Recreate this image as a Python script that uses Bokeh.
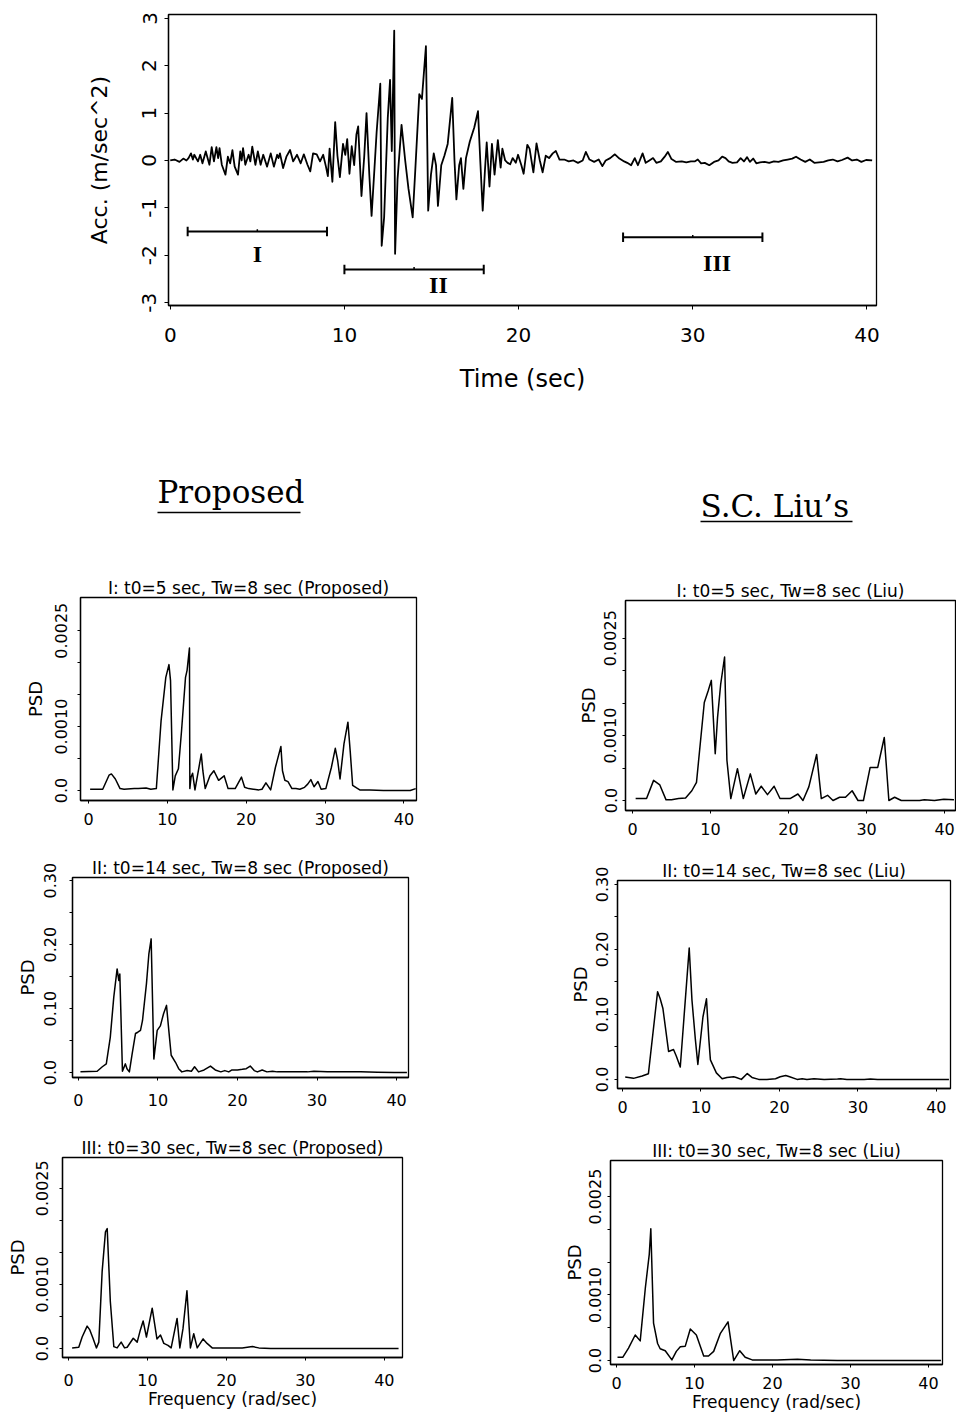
from bokeh.plotting import figure
from bokeh.layouts import column, row
from bokeh.models import Range1d, FixedTicker
from bokeh.core.properties import value
from bokeh.embed import file_html
from bokeh.resources import INLINE

FONT = "DejaVu Sans"

# ---------------- acceleration time history ----------------
acc_time = [
    0.00, 0.25, 0.53, 0.75, 0.93, 1.05, 1.19, 1.30, 1.38, 1.59, 1.72, 1.85, 2.04, 2.25, 2.38,
    2.51, 2.65, 2.75, 2.83, 2.96, 3.17, 3.31, 3.44, 3.57, 3.70, 3.89, 4.02, 4.10, 4.18, 4.31,
    4.50, 4.60, 4.71, 4.89, 5.03, 5.19, 5.34, 5.56, 5.77, 5.95, 6.14, 6.22, 6.30, 6.48, 6.67,
    6.88, 7.06, 7.28, 7.49, 7.67, 7.88, 8.04, 8.20, 8.41, 8.60, 8.78, 8.94, 9.05,
    9.15, 9.31, 9.47, 9.60, 9.74, 9.92, 10.05, 10.16, 10.29, 10.42, 10.56, 10.69, 10.79, 10.98,
    11.14, 11.27, 11.43, 11.56, 11.72, 11.85, 12.06, 12.14, 12.28, 12.49, 12.62, 12.72, 12.86,
    12.91, 13.05, 13.28, 13.49, 13.68, 13.92, 14.07, 14.30, 14.45, 14.68, 14.81, 14.97, 15.13,
    15.26, 15.37, 15.56, 15.74, 15.93, 16.19, 16.32, 16.43, 16.59, 16.69, 16.83, 16.98, 17.20,
    17.46, 17.67, 17.80, 17.94, 18.07, 18.17, 18.33, 18.47, 18.62, 18.81, 18.97, 19.07, 19.23,
    19.37, 19.52, 19.66, 19.84,
    19.97, 20.16, 20.29, 20.50, 20.63, 20.85, 21.03, 21.22, 21.38, 21.56, 21.75, 21.96, 22.14,
    22.35, 22.62, 22.88, 23.15, 23.41, 23.68, 23.86, 24.07, 24.34, 24.60, 24.81, 25.00, 25.26,
    25.53, 25.79, 26.06, 26.24, 26.46, 26.67, 26.85, 27.12, 27.30, 27.51, 27.72, 27.91, 28.17,
    28.39, 28.57, 28.78, 29.05, 29.37, 29.63, 29.89, 30.11, 30.29, 30.48, 30.69, 30.95, 31.22,
    31.48, 31.69, 31.88, 32.06, 32.28, 32.54, 32.75, 32.94, 33.12, 33.28, 33.47, 33.65, 33.86,
    34.13, 34.39, 34.66, 34.92, 35.19, 35.45, 35.71, 35.93, 36.19, 36.46, 36.72, 36.98, 37.25,
    37.51, 37.78, 38.04, 38.31, 38.57, 38.89, 39.15, 39.42, 39.68, 39.95, 40.30,
]
acc_value = [
    0.00, 0.02, -0.03, 0.04, 0.00, 0.05, 0.15, 0.02, 0.12, -0.02, 0.12, -0.06, 0.19, -0.09, 0.28,
    -0.02, 0.28, 0.05, 0.26, -0.09, -0.30, 0.08, -0.06, 0.22, -0.13, -0.30, 0.19, 0.00, 0.26, -0.09,
    0.12, -0.02, 0.29, -0.09, 0.19, -0.09, 0.12, -0.13, 0.15, -0.13, 0.12, 0.05, 0.15, -0.16, 0.08,
    0.22, -0.02, 0.12, -0.06, 0.13, -0.09, -0.23, 0.15, 0.13, -0.02, 0.12, -0.13, -0.33,
    0.25, -0.45, 0.81, 0.10, -0.35, 0.35, 0.12, 0.45, -0.28, 0.30, -0.10, 0.55, 0.72, -0.75,
    0.10, 1.00, -0.30, -1.17, -0.20, 0.60, 1.62, -1.80, -1.20, 0.90, 1.70, 0.20, 2.74,
    -1.97, -0.40, 0.75, 0.00, -0.60, -1.20, -0.20, 1.40, 1.30, 2.41, -1.06, -0.30, 0.15,
    -0.10, -0.96, -0.10, 0.10, 0.35, 1.32, 0.00, -0.82, -0.10, 0.05, -0.60, 0.05, 0.40,
    0.70, 1.04, 0.00, -1.06, -0.20, 0.38, -0.55, 0.35, -0.30, 0.43, -0.15, 0.25, 0.00,
    -0.05, -0.08, 0.05, -0.05,
    0.12, -0.10, -0.28, 0.33, 0.25, -0.25, 0.36, 0.00, -0.25, 0.10, 0.05, 0.15, 0.20,
    0.02, 0.02, -0.02, 0.00, -0.05, 0.00, 0.18, 0.02, -0.03, 0.02, -0.12, 0.00, 0.05,
    0.13, 0.04, -0.02, -0.05, -0.10, 0.05, -0.10, 0.15, -0.05, 0.00, 0.05, -0.05, -0.02,
    0.08, 0.18, 0.03, -0.03, -0.02, -0.04, -0.02, -0.02, 0.02, -0.06, -0.05, -0.10, -0.03,
    0.00, 0.08, 0.05, -0.02, -0.05, -0.04, 0.05, -0.02, 0.07, -0.03, 0.04, -0.06, -0.04,
    -0.03, -0.05, -0.02, -0.03, 0.00, 0.02, 0.04, 0.08, 0.02, -0.03, 0.02, -0.05, -0.04,
    -0.03, 0.00, 0.02, -0.02, 0.01, 0.06, 0.00, 0.02, -0.03, 0.01, 0.00,
]

# analysis windows (t0 +/- Tw/2)
window_center = [5.0, 14.0, 30.0]
window_half = [4.0, 4.0, 4.0]
window_level = [-1.50, -2.30, -1.62]
window_name = ["I", "II", "III"]
window_label_t = [5.0, 15.4, 31.4]
window_label_a = [-1.97, -2.62, -2.17]

# ---------------- PSD curves ----------------
freq_I_prop = [0.2, 1.8, 2.6, 2.9, 3.4, 4.0, 4.5, 5.8, 6.3, 7.3, 7.9, 8.6, 9.2, 9.8, 10.2, 10.4,
               10.7, 11.0, 11.4, 11.8, 12.3, 12.5, 12.8, 12.85, 13.0, 13.2, 13.5, 14.0, 14.3,
               14.5, 14.8, 15.4, 15.9, 16.5, 17.2, 17.7, 18.6, 19.4, 19.8, 20.3, 20.9, 21.6,
               22.0, 22.5, 23.1, 23.7, 24.4, 24.6, 24.9, 25.3, 25.8, 26.3, 26.8, 27.4, 27.8,
               28.2, 28.6, 29.1, 29.5, 30.1, 30.8, 31.3, 31.6, 31.9, 32.4, 32.9, 33.2, 33.5,
               34.0, 34.4, 35.7, 37.4, 39.1, 40.8, 41.5]
psd_I_prop = [0.00002, 0.00002, 0.00024, 0.00026, 0.00018, 0.00003, 0.00002, 0.00003, 0.00003,
              0.00004, 0.00002, 0.00003, 0.00109, 0.00177, 0.00197, 0.00172, 0.00001, 0.00023,
              0.00034, 0.00094, 0.00177, 0.00188, 0.00223, 0.00003, 0.00021, 0.00027, 0.00001,
              0.00036, 0.00057, 0.00031, 0.00003, 0.00023, 0.00031, 0.00016, 0.00023, 0.00003,
              0.00003, 0.00021, 0.00005, 0.00003, 0.00002, 0.00001, 0.00002, 0.00012, 0.00001,
              0.00036, 0.00069, 0.00031, 0.00016, 0.00014, 0.00003, 0.00003, 0.00002, 0.00005,
              0.00010, 0.00017, 0.00006, 0.00014, 0.00002, 0.00003, 0.00036, 0.00066, 0.00047,
              0.00018, 0.00073, 0.00107, 0.00060, 0.00008, 0.00004, 0.00001, 0.00001, 0.0, 0.0,
              0.0, 0.00003]

freq_I_liu = [0.4, 1.8, 2.7, 3.5, 4.3, 5.0, 5.9, 6.8, 7.6, 8.2, 9.2, 9.7, 10.1, 10.6, 10.9, 11.3,
              11.8, 12.1, 12.6, 13.45, 14.2, 15.1, 15.8, 16.5, 17.3, 18.15, 18.9, 20.2, 21.2,
              21.85, 22.6, 23.6, 24.2, 25.0, 25.7, 26.55, 27.3, 28.15, 28.9, 29.6, 30.46, 31.43,
              32.27, 32.86, 33.6, 34.45, 35.3, 36.8, 37.4, 38.7, 39.9, 41.2]
psd_I_liu = [0.00003, 0.00003, 0.00031, 0.00024, 0.00001, 0.00001, 0.00003, 0.00004, 0.00015,
             0.00028, 0.00151, 0.00169, 0.00185, 0.00072, 0.00128, 0.00179, 0.00221, 0.00062,
             0.00003, 0.00049, 0.00003, 0.00041, 0.00010, 0.00022, 0.00009, 0.00022, 0.00003,
             0.00003, 0.00010, 0.0, 0.00021, 0.00071, 0.00003, 0.00008, 0.0, 0.00005, 0.00005,
             0.00015, 0.0, 0.0, 0.00051, 0.00051, 0.00097, 0.0, 0.00005, 0.0, 0.0, 0.0, 0.00001,
             0.0, 0.00002, 0.00001]

freq_II_prop = [0.25, 2.35, 3.0, 3.5, 4.0, 4.44, 4.86, 5.07, 5.2, 5.53, 5.9, 6.1, 6.4, 6.75, 7.17,
                7.46, 7.8, 8.05, 8.55, 8.85, 9.14, 9.48, 9.9, 10.3, 10.7, 11.07, 11.36, 11.66,
                12.2, 12.6, 13.0, 13.67, 14.2, 14.6, 15.1, 15.8, 16.6, 17.2, 17.9, 18.4, 18.9,
                19.3, 20.0, 20.6, 21.1, 21.6, 22.1, 22.5, 23.1, 23.7, 24.4, 25.0, 27.1, 28.8,
                29.6, 31.3, 33.4, 35.5, 37.6, 39.7, 41.3]
psd_II_prop = [0.001, 0.002, 0.009, 0.0135, 0.055, 0.118, 0.162, 0.144, 0.154, 0.002, 0.0135,
               0.006, 0.001, 0.029, 0.061, 0.063, 0.066, 0.081, 0.139, 0.185, 0.209, 0.021,
               0.066, 0.073, 0.092, 0.105, 0.066, 0.027, 0.016, 0.006, 0.001, 0.003, 0.002,
               0.009, 0.001, 0.004, 0.010, 0.004, 0.001, 0.003, 0.001, 0.004, 0.004, 0.005,
               0.006, 0.010, 0.003, 0.001, 0.004, 0.001, 0.002, 0.001, 0.001, 0.001, 0.002,
               0.001, 0.001, 0.001, 0.0005, 0.0, 0.0]

freq_II_liu = [0.34, 1.4, 2.5, 3.3, 4.47, 4.8, 5.15, 5.87, 6.5, 6.85, 7.36, 8.0, 8.5, 8.85, 9.28,
               9.6, 10.25, 10.7, 11.0, 11.2, 11.96, 12.7, 13.3, 14.17, 14.5, 15.15, 15.9, 16.5,
               17.36, 18.4, 19.5, 20.1, 20.8, 21.3, 22.25, 22.9, 23.5, 24.4, 25.7, 27.4, 27.8,
               28.6, 30.8, 31.6, 32.5, 33.7, 35.9, 38.0, 40.1, 41.6]
psd_II_liu = [0.0036, 0.0016, 0.0052, 0.0088, 0.135, 0.124, 0.109, 0.043, 0.046, 0.036, 0.019,
              0.122, 0.202, 0.122, 0.062, 0.023, 0.096, 0.124, 0.062, 0.030, 0.010, 0.001,
              0.003, 0.004, 0.003, 0.0, 0.009, 0.003, 0.0, 0.0, 0.001, 0.004, 0.006, 0.004,
              0.0, 0.001, 0.0, 0.001, 0.0, 0.0005, 0.001, 0.0, 0.0, 0.0005, 0.0, 0.0, 0.0, 0.0,
              0.0, 0.0]

freq_III_prop = [0.46, 1.3, 1.73, 2.36, 2.7, 3.1, 3.54, 3.84, 4.26, 4.68, 4.9, 5.3, 5.74, 6.16,
                 6.67, 7.1, 7.43, 8.2, 8.7, 9.1, 9.45, 9.87, 10.6, 11.2, 11.65, 12.07, 12.6,
                 13.0, 13.75, 14.1, 14.5, 15.0, 15.44, 15.86, 16.3, 17.05, 17.55, 18.2, 19.7,
                 22.0, 23.3, 24.1, 25.6, 29.4, 33.6, 37.8, 41.8]
psd_III_prop = [0.00001, 0.00002, 0.00018, 0.00035, 0.00029, 0.00016, 0.00001, 0.00010, 0.00120,
                0.00182, 0.00187, 0.00073, 0.00003, 0.00001, 0.00010, 0.00001, 0.00002, 0.00016,
                0.00010, 0.00029, 0.00043, 0.00018, 0.00063, 0.00015, 0.00021, 0.00008, 0.00005,
                0.00001, 0.00047, 0.00001, 0.00031, 0.00090, 0.00001, 0.00023, 0.00001, 0.00015,
                0.00008, 0.00001, 0.00001, 0.00001, 0.00003, 0.00001, 0.0, 0.0, 0.0, 0.0, 0.0]

freq_III_liu = [0.13, 0.8, 1.54, 2.4, 3.04, 3.7, 4.2, 4.4, 4.75, 5.27, 5.6, 6.25, 7.1, 7.67, 8.18,
                8.82, 9.46, 10.24, 11.18, 11.8, 12.46, 13.3, 14.3, 15.03, 15.8, 16.5, 17.4, 18.9,
                20.6, 23.2, 24.9, 28.3, 30.45, 34.7, 39.0, 41.6]
psd_III_liu = [0.00005, 0.00005, 0.00019, 0.00039, 0.00030, 0.00111, 0.00162, 0.00201, 0.00057,
               0.00026, 0.00018, 0.00015, 0.00001, 0.00014, 0.00021, 0.00022, 0.00048, 0.00039,
               0.00007, 0.00007, 0.00014, 0.00041, 0.00059, 0.0, 0.00015, 0.00005, 0.00001,
               0.00001, 0.00001, 0.00002, 0.00001, 0.0, 0.0, 0.0, 0.0, 0.0]

freq_ticks = [0, 10, 20, 30, 40]
small_ticks = [0, 0.001, 0.0025]
small_minor = [0.0005, 0.0015, 0.002]
small_labels = {0: "0.0", 0.001: "0.0010", 0.0025: "0.0025"}
big_ticks = [0, 0.1, 0.2, 0.3]
big_minor = [0.05, 0.15, 0.25]
big_labels = {0: "0.0", 0.1: "0.10", 0.2: "0.20", 0.3: "0.30"}
acc_ticks = [-3, -2, -1, 0, 1, 2, 3]
time_ticks = [0, 10, 20, 30, 40]


def style_axes(p, tick_size, label_size):
    p.grid.visible = False
    p.outline_line_color = "black"
    p.outline_line_width = 1.3
    p.background_fill_color = "white"
    p.border_fill_color = "white"
    for ax in (p.xaxis[0], p.yaxis[0]):
        ax.axis_line_color = "black"
        ax.axis_line_width = 1.3
        ax.major_tick_line_color = "black"
        ax.minor_tick_line_color = "black"
        ax.major_tick_in = 0
        ax.minor_tick_in = 0
        ax.major_label_text_font = FONT
        ax.major_label_text_font_size = tick_size
        ax.major_label_text_color = "black"
        ax.axis_label_text_font = FONT
        ax.axis_label_text_font_size = label_size
        ax.axis_label_text_font_style = "normal"
        ax.axis_label_text_color = "black"


# ---------------- top: acceleration record ----------------
top = figure(width=956, height=405, x_range=Range1d(-0.1, 40.55), y_range=Range1d(-3.06, 3.08),
             output_backend="svg", toolbar_location=None,
             min_border_left=168, min_border_right=80, min_border_top=14, min_border_bottom=100)
style_axes(top, "20px", "24px")
top.xaxis.ticker = FixedTicker(ticks=time_ticks)
top.yaxis.ticker = FixedTicker(ticks=acc_ticks)
top.yaxis.major_label_overrides = {t: str(t) for t in acc_ticks}
top.yaxis.major_label_orientation = "vertical"
top.xaxis.major_tick_out = 4
top.yaxis.major_tick_out = 4
top.xaxis.major_label_standoff = 18
top.yaxis.major_label_standoff = 8
top.xaxis.axis_label = "Time (sec)"
top.yaxis.axis_label = "Acc. (m/sec^2)"
top.xaxis.axis_label_standoff = 20
top.yaxis.axis_label_standoff = 28
top.yaxis.axis_label_text_font_size = "22px"

top.line(acc_time, acc_value, line_color="black", line_width=1.8, line_join="round")

w_start = [c - h for c, h in zip(window_center, window_half)]
w_end = [c + h for c, h in zip(window_center, window_half)]
top.segment(x0=w_start, y0=window_level, x1=w_end, y1=window_level, line_color="black", line_width=2)
cap_x = w_start + w_end
cap_lvl = window_level + window_level
top.segment(x0=cap_x, y0=[v - 0.1 for v in cap_lvl], x1=cap_x, y1=[v + 0.1 for v in cap_lvl],
            line_color="black", line_width=2)
top.segment(x0=window_center, y0=window_level, x1=window_center,
            y1=[v + 0.05 for v in window_level], line_color="black", line_width=1.5)
top.text(x=window_label_t, y=window_label_a, text=window_name, text_font=value("Liberation Serif"),
         text_font_style="bold", text_font_size="24px", text_align="center",
         text_baseline="middle", text_color="black")

# ---------------- headings ----------------
head = figure(width=956, height=140, x_range=Range1d(0, 956), y_range=Range1d(545, 405),
              output_backend="svg", toolbar_location=None, min_border=0,
              x_axis_location=None, y_axis_location=None)
head.grid.visible = False
head.outline_line_color = None
head.text(x=[157, 700], y=[491, 505], text=["Proposed", "S.C. Liu\u2019s"],
          text_font=value("DejaVu Serif"), text_font_size="31px", text_align="left",
          text_baseline="alphabetic", text_color="black")
head.segment(x0=[157, 700], y0=[512, 521], x1=[300, 852], y1=[512, 521],
             line_color="black", line_width=1.6)


# ---------------- PSD panels ----------------
def psd_panel(freq, psd, title, big, xr, yr, w, h, bl, br, bt, bb,
              tick_std_x, tick_std_y, lab_std_y, xlabel=False, lab_std_x=0):
    p = figure(width=w, height=h, x_range=Range1d(*xr), y_range=Range1d(*yr),
               output_backend="svg", toolbar_location=None,
               min_border_left=bl, min_border_right=br, min_border_top=bt, min_border_bottom=bb)
    style_axes(p, "16px", "18px")
    p.title.text = title
    p.title.text_font = FONT
    p.title.text_font_size = "17px"
    p.title.text_font_style = "normal"
    p.title.text_color = "black"
    p.title.align = "center"
    p.title.standoff = 0
    p.xaxis.ticker = FixedTicker(ticks=freq_ticks)
    if big:
        p.yaxis.ticker = FixedTicker(ticks=big_ticks, minor_ticks=big_minor)
        p.yaxis.major_label_overrides = big_labels
    else:
        p.yaxis.ticker = FixedTicker(ticks=small_ticks, minor_ticks=small_minor)
        p.yaxis.major_label_overrides = small_labels
    p.yaxis.major_label_orientation = "vertical"
    p.xaxis.major_tick_out = 3
    p.yaxis.major_tick_out = 3
    p.yaxis.minor_tick_out = 3
    p.xaxis.major_label_standoff = tick_std_x
    p.yaxis.major_label_standoff = tick_std_y
    p.yaxis.axis_label = "PSD"
    p.yaxis.axis_label_standoff = lab_std_y
    if xlabel:
        p.xaxis.axis_label = "Frequency (rad/sec)"
        p.xaxis.axis_label_standoff = lab_std_x
        p.xaxis.axis_label_text_font_size = "17px"
    p.line(freq, psd, line_color="black", line_width=1.5, line_join="round")
    return p


L1 = psd_panel(freq_I_prop, psd_I_prop, "I: t0=5 sec, Tw=8 sec (Proposed)", False,
               (-1.02, 41.6), (-0.000156, 0.00302), 520, 305, 80, 104, 52, 50, 9, 10, 7)
R1 = psd_panel(freq_I_liu, psd_I_liu, "I: t0=5 sec, Tw=8 sec (Liu)", False,
               (-0.9, 41.4), (-0.000154, 0.00308), 436, 305, 105, 1, 55, 40, 9, 6, 3)
L2 = psd_panel(freq_II_prop, psd_II_prop, "II: t0=14 sec, Tw=8 sec (Proposed)", True,
               (-0.75, 41.5), (-0.0078, 0.305), 520, 280, 72, 112, 27, 53, 13, 13, 4)
R2 = psd_panel(freq_II_liu, psd_II_liu, "II: t0=14 sec, Tw=8 sec (Liu)", True,
               (-0.64, 41.8), (-0.014, 0.306), 436, 280, 97, 6, 30, 42, 9, 6, 3)
L3 = psd_panel(freq_III_prop, psd_III_prop, "III: t0=30 sec, Tw=8 sec (Proposed)", False,
               (-0.76, 42.3), (-0.00014, 0.00298), 520, 286, 62, 118, 27, 59, 13, 11, 6,
               xlabel=True, lab_std_x=0)
R3 = psd_panel(freq_III_liu, psd_III_liu, "III: t0=30 sec, Tw=8 sec (Liu)", False,
               (-0.77, 41.8), (-0.00006, 0.00305), 436, 286, 90, 14, 30, 52, 9, 6, 2,
               xlabel=True, lab_std_x=0)

layout = column(
    row(top),
    row(head),
    row(column(L1), column(R1)),
    row(column(L2), column(R2)),
    row(column(L3), column(R3)),
)

open("out.html", "w").write(file_html(layout, INLINE))
